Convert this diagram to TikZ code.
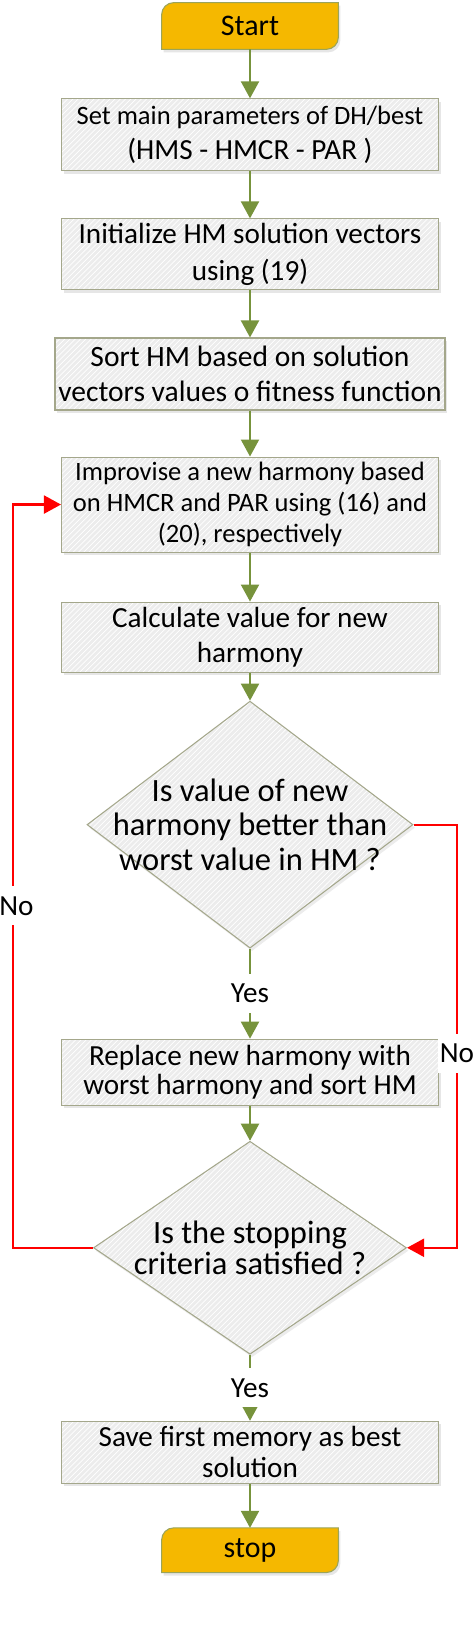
\documentclass[tikz,border=0pt]{standalone}
\usepackage{fontspec}
\setmainfont{Carlito}
\usetikzlibrary{shapes,arrows.meta,positioning,shadows,calc,patterns,backgrounds}
\definecolor{boxfill}{HTML}{ECECEC}
\definecolor{boxline}{HTML}{A4A78B}
\definecolor{termfill}{HTML}{F5B800}
\definecolor{termline}{HTML}{9AA45C}
\definecolor{flowgreen}{HTML}{77933C}

\begin{document}
\begin{tikzpicture}[node distance=0.94cm,
	box/.style={rectangle, drop shadow={shadow xshift=0.04cm, shadow yshift=-0.06cm, opacity=0.2}, preaction={fill=boxfill}, pattern=north east lines, pattern color=white, draw=boxline, line width=0.6pt, minimum width=7.54cm, inner sep=0pt, align=center, font=\fontsize{16.6}{20}\selectfont},
	dec/.style={diamond, drop shadow={shadow xshift=0.04cm, shadow yshift=-0.06cm, opacity=0.15}, preaction={fill=boxfill}, pattern=north east lines, pattern color=white, draw=boxline, line width=0.6pt, inner sep=0pt},
	term/.style={rectangle, minimum width=3.52cm, minimum height=0.92cm, inner sep=0pt, font=\fontsize{17}{20}\selectfont},
	flow/.style={draw=flowgreen, line width=1.2pt, -{Triangle[width=0.36cm,length=0.34cm]}},
	back/.style={draw=red, line width=1.2pt, -{Triangle[width=0.36cm,length=0.34cm]}},
	lbl/.style={fill=white, inner xsep=0.04cm, inner ysep=0.2cm, font=\fontsize{16.6}{20}\selectfont}]
				\useasboundingbox (0,0) rectangle (9.48,-32.54);
				\node[term] (start) at (5,-0.52) {Start};
				\node[box, minimum height=1.44cm, below=0.98cm of start] (par) {{\fontsize{15.1}{19}\selectfont Set main parameters of DH/best}\\(HMS - HMCR - PAR )};
				\node[box, minimum height=1.42cm, below=0.94cm of par, font=\fontsize{16.6}{21}\selectfont] (init) {Initialize HM solution vectors\\using (19)};
				\node[box, minimum height=1.44cm, minimum width=7.8cm, below=0.94cm of init, font=\fontsize{16.8}{20}\selectfont] (sort) {Sort HM based on solution\\vectors values o fitness function};
				\node[box, minimum height=1.9cm, below=0.92cm of sort, font=\fontsize{15.1}{17.6}\selectfont] (impr) {Improvise a new harmony based\\on HMCR and PAR using (16) and\\(20), respectively};
				\node[box, minimum height=1.4cm, below=0.98cm of impr] (calc) {Calculate value for new\\harmony};
				\node[dec, minimum width=6.52cm, minimum height=4.94cm, below=0.56cm of calc,
					label={[align=center, font=\fontsize{18.5}{19.5}\selectfont]center:Is value of new\\harmony better than\\worst value in HM ?}] (better) {};
				\node[box, minimum height=1.32cm, below=1.8cm of better, font=\fontsize{16.6}{17}\selectfont] (repl) {Replace new harmony with\\worst harmony and sort HM};
				\node[dec, minimum width=6.26cm, minimum height=4.26cm, below=0.7cm of repl,
					label={[align=center, font=\fontsize{18.5}{17.5}\selectfont]center:Is the stopping\\criteria satisfied ?}] (crit) {};
				\node[box, minimum height=1.24cm, below=1.32cm of crit, font=\fontsize{16.6}{17.6}\selectfont] (save) {Save first memory as best\\solution};
				\node[term, minimum height=0.88cm, below=0.88cm of save] (stop) {stop};
				
				\begin{scope}[on background layer]
					\foreach \t in {start,stop}
						\draw[termline, fill=termfill, line width=0.6pt, drop shadow={shadow xshift=0.04cm, shadow yshift=-0.06cm, opacity=0.2}]
							($(\t.north west)+(0,-0.24)$) arc[start angle=180, end angle=90, radius=0.24] -- (\t.north east)
							-- ($(\t.south east)+(0,0.24)$) arc[start angle=0, end angle=-90, radius=0.24] -- (\t.south west) -- cycle;
				\end{scope}
				
				\foreach \a/\b in {start/par, par/init, init/sort, sort/impr, impr/calc, calc/better, repl/crit, save/stop}
					\draw[flow] (\a) -- (\b);
				\draw[flow] (better) -- node[lbl] {Yes} (repl);
				\draw[flow] (crit) -- node[lbl] {Yes} (save);
				
				\coordinate (lrail) at (0.26,0);
				\coordinate (rrail) at (9.14,0);
				\draw[back] (crit.west) -- (crit.west -| lrail) -- node[lbl, pos=0.46, xshift=0.07cm] {No} (impr.west -| lrail) -- (impr.west);
				\draw[back] (better.east) -- (better.east -| rrail) -- node[lbl, pos=0.54] {No} (crit.east -| rrail) -- (crit.east);
			\end{tikzpicture}
\end{document}
